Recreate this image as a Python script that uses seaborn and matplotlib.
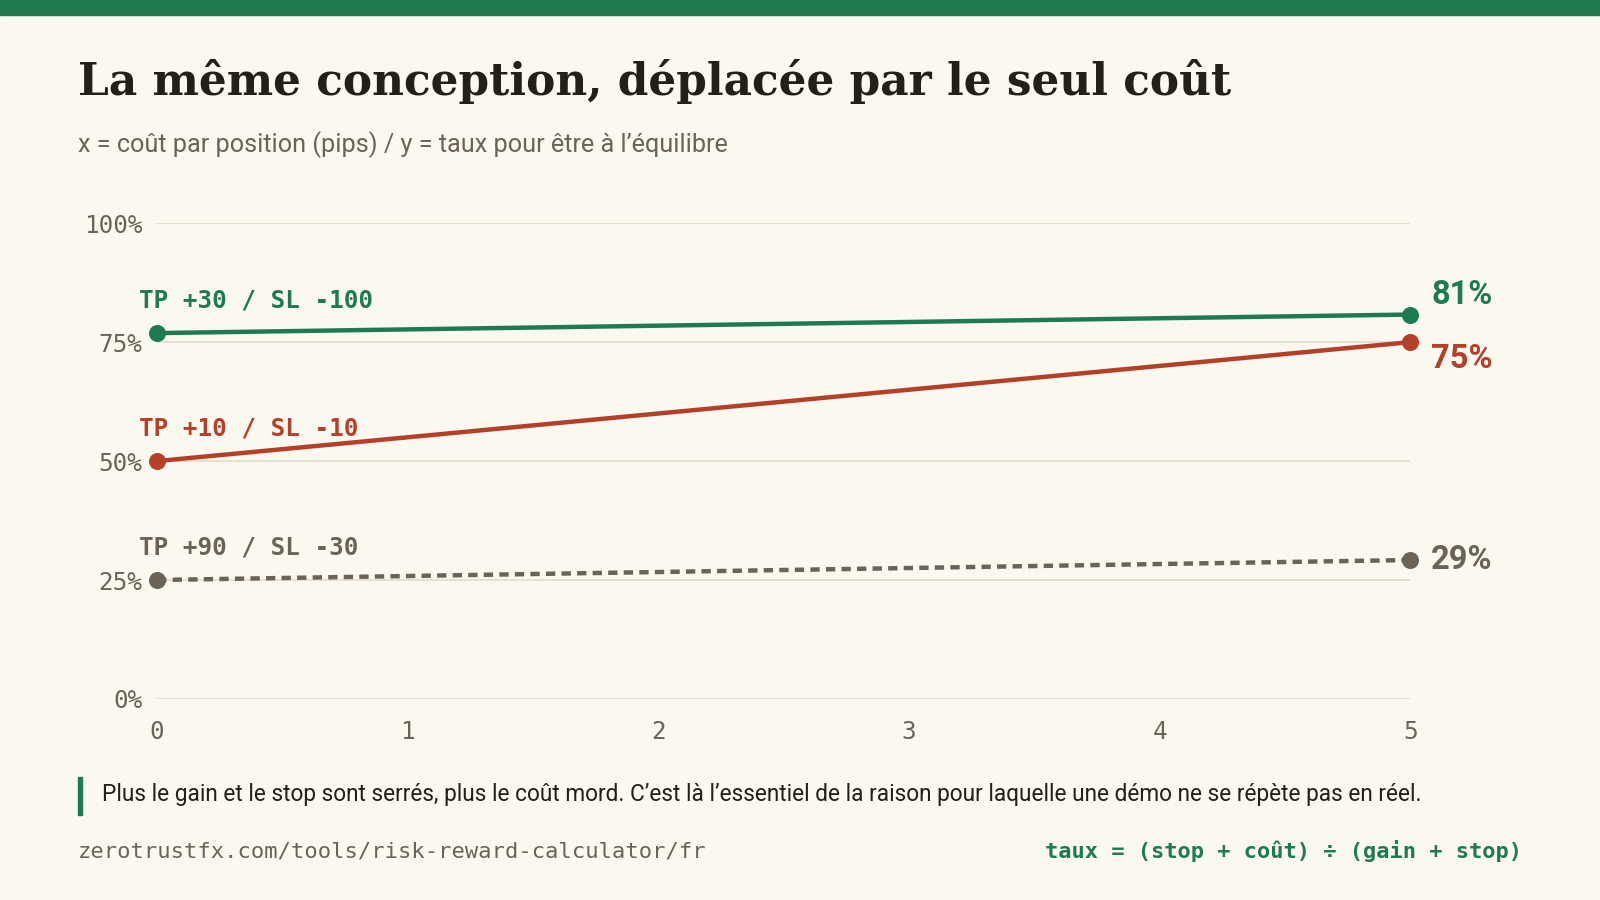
import pandas as pd
import matplotlib.pyplot as plt
import seaborn as sns

# coût par position (pips)
cost = [0, 5]

setups = ['TP +30 / SL -100', 'TP +10 / SL -10', 'TP +90 / SL -30']
rate_30_100 = [76.9, 80.8]
rate_10_10 = [50.0, 75.0]
rate_90_30 = [25.0, 29.2]
end_labels = ['81%', '75%', '29%']

y_ticks = [0, 25, 50, 75, 100]
x_ticks = [0, 1, 2, 3, 4, 5]

colors = ['#1e7b50', '#b5402a', '#6b6356']
bg = '#fbf8ef'

df = pd.DataFrame({
    'cost': cost * 3,
    'rate': rate_30_100 + rate_10_10 + rate_90_30,
    'setup': [s for s in setups for _ in cost],
})

sns.set_theme(style='white')
plt.rcParams['font.family'] = ['Roboto', 'DejaVu Sans']

fig = plt.figure(figsize=(16, 9), dpi=100, facecolor=bg)
ax = fig.add_axes([0.0982, 0.2234, 0.7832, 0.5286])
ax.set_facecolor(bg)

# bandeau vert en haut
fig.patches.append(plt.Rectangle((0, 0.983), 1, 0.017, transform=fig.transFigure,
                                 color='#1e7b50', zorder=0))

for y in y_ticks:
    ax.axhline(y, color='#e3dccb', lw=1.2, zorder=0)

styles = ['-', '-', (0, (2.1, 1.4))]
for setup, col, ls in zip(setups, colors, styles):
    d = df[df['setup'] == setup]
    sns.lineplot(data=d, x='cost', y='rate', color=col, lw=3.2, ax=ax,
                 linestyle=ls, legend=False, zorder=3)
    ax.scatter(d['cost'], d['rate'], s=150, color=col, zorder=4, clip_on=False,
               linewidths=0)

# étiquettes des séries, à gauche
for setup, col, d0 in zip(setups, colors, [rate_30_100, rate_10_10, rate_90_30]):
    ax.annotate(setup, (0, d0[0]), xytext=(-13, 14.5), textcoords='offset points',
                fontsize=17.5, fontweight='bold', family='DejaVu Sans Mono',
                color=col, ha='left', va='bottom')

# valeurs à droite
offsets = [14, -12, 0]
for lab, col, d0, off in zip(end_labels, colors, [rate_30_100, rate_10_10, rate_90_30], offsets):
    ax.annotate(lab, (5, d0[-1]), xytext=(15, off), textcoords='offset points',
                fontsize=23.5, fontweight='bold', family='Roboto',
                color=col, ha='left', va='center')

ax.set_xlim(0, 5)
ax.set_ylim(0, 100)
ax.set_xticks(x_ticks)
ax.set_yticks(y_ticks)
ax.set_yticklabels([f'{v}%' for v in y_ticks])
ax.tick_params(axis='both', length=0, labelsize=17.5, labelcolor='#6b6356')
ax.tick_params(axis='y', pad=10.5)
ax.tick_params(axis='x', pad=15)
for lab in ax.get_xticklabels() + ax.get_yticklabels():
    lab.set_family('DejaVu Sans Mono')
ax.set_xlabel('')
ax.set_ylabel('')
sns.despine(ax=ax, left=True, bottom=True)

fig.text(0.0485, 0.91, 'La même conception, déplacée par le seul coût',
         fontsize=31.6, fontweight='bold', family='DejaVu Serif',
         color='#231f1a', ha='left', va='center')
fig.text(0.0485, 0.839, 'x = coût par position (pips) / y = taux pour être à l’équilibre',
         fontsize=18.2, color='#6b6356', ha='left', va='center')

# note en bas
fig.patches.append(plt.Rectangle((0.0485, 0.095), 0.003, 0.042, transform=fig.transFigure,
                                 color='#1e7b50'))
fig.text(0.0635, 0.117,
         'Plus le gain et le stop sont serrés, plus le coût mord. C’est là l’essentiel de la raison pour laquelle une démo ne se répète pas en réel.',
         fontsize=16.3, color='#231f1a', ha='left', va='center')
fig.text(0.0485, 0.054, 'zerotrustfx.com/tools/risk-reward-calculator/fr',
         fontsize=15.9, family='DejaVu Sans Mono', color='#6b6356', ha='left', va='center')
fig.text(0.951, 0.054, 'taux = (stop + coût) ÷ (gain + stop)',
         fontsize=15.8, fontweight='bold', family='DejaVu Sans Mono', color='#1e7b50',
         ha='right', va='center')

fig.savefig('out.png', dpi=100, facecolor=bg)
